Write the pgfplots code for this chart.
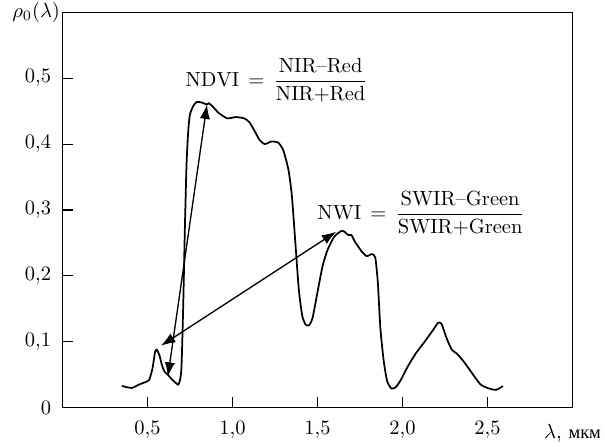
\documentclass[border=0pt]{standalone}
\usepackage{fontspec}
\newfontfamily\cyr{Liberation Serif}
\usepackage{amsmath}
\usepackage{pgfplots}
\pgfplotsset{compat=1.18}
\usetikzlibrary{arrows.meta}

\begin{document}
\begin{tikzpicture}
\begin{axis}[
    scale only axis,
    width=249pt, height=193pt,
    xmin=0, xmax=3.0,
    ymin=0, ymax=0.6,
    axis line style={line width=0.65pt},
    tick pos=left,
    tick align=inside,
    major tick length=5pt,
    tick style={line width=0.55pt, black},
    xtick={0.5,1.0,1.5,2.0,2.5},
    xticklabels={$0{,}5$,$1{,}0$,$1{,}5$,$2{,}0$,$2{,}5$},
    ytick={0,0.1,0.2,0.3,0.4,0.5},
    yticklabels={$0$,$0{,}1$,$0{,}2$,$0{,}3$,$0{,}4$,$0{,}5$},
    xticklabel style={yshift=-3pt},
    yticklabel style={xshift=-2pt},
    xlabel={$\lambda,$\ {\cyr\small мкм}},
    xlabel style={at={(axis description cs:1.0,0)}, anchor=north, yshift=-6pt, inner sep=2pt},
    clip=false,
]
\addplot[black, line width=0.85pt, smooth, tension=0.35] coordinates {
(0.35,0.033) (0.38,0.031) (0.41,0.030) (0.45,0.035) (0.48,0.038)
(0.51,0.042) (0.53,0.06) (0.545,0.085) (0.555,0.088) (0.57,0.08)
(0.585,0.065) (0.60,0.055) (0.62,0.05) (0.64,0.044) (0.66,0.039)
(0.68,0.035) (0.69,0.04) (0.70,0.06) (0.71,0.15) (0.72,0.27)
(0.73,0.37) (0.74,0.42) (0.75,0.445) (0.77,0.458) (0.79,0.464) (0.82,0.463)
(0.85,0.460) (0.86,0.462) (0.88,0.458) (0.92,0.447) (0.97,0.439)
(1.02,0.441) (1.07,0.439) (1.10,0.433) (1.13,0.42) (1.16,0.406)
(1.19,0.400) (1.23,0.404) (1.27,0.402) (1.30,0.39) (1.33,0.36)
(1.35,0.32) (1.37,0.25) (1.39,0.18) (1.41,0.14) (1.43,0.126)
(1.45,0.125) (1.47,0.135) (1.50,0.175) (1.53,0.215) (1.56,0.24)
(1.60,0.26) (1.64,0.268) (1.66,0.267) (1.68,0.262) (1.70,0.262)
(1.72,0.252) (1.76,0.237) (1.79,0.230) (1.82,0.233) (1.84,0.228)
(1.855,0.19) (1.87,0.12) (1.89,0.07) (1.91,0.04) (1.935,0.029)
(1.96,0.031) (1.99,0.042) (2.03,0.062) (2.08,0.083) (2.13,0.100)
(2.18,0.118) (2.21,0.129) (2.23,0.127) (2.26,0.105) (2.29,0.088)
(2.32,0.082) (2.36,0.07) (2.41,0.052) (2.46,0.035) (2.51,0.029)
(2.55,0.027) (2.58,0.031) (2.59,0.033)
};
% double arrows
\draw[line width=0.65pt, {Latex[length=7pt,width=5pt]}-{Latex[length=7pt,width=5pt]}]
    (axis cs:0.62,0.047) -- (axis cs:0.85,0.46);
\draw[line width=0.65pt, {Latex[length=7pt,width=5pt]}-{Latex[length=7pt,width=5pt]}]
    (axis cs:0.58,0.094) -- (axis cs:1.61,0.267);
% formulas
\node at (axis cs:1.26,0.497) {$\mathrm{NDVI}\,=\,\dfrac{\text{NIR--Red}}{\text{NIR+Red}}$};
\node at (axis cs:2.11,0.295) {$\mathrm{NWI}\,=\,\dfrac{\text{SWIR--Green}}{\text{SWIR+Green}}$};
% y label
\node[anchor=east, inner sep=1pt] at (rel axis cs:0,1) {$\rho_0(\lambda)$};
\end{axis}
% a little white room on the left, as in the original
\path ([xshift=-5pt]current bounding box.west);
\end{tikzpicture}
\end{document}
